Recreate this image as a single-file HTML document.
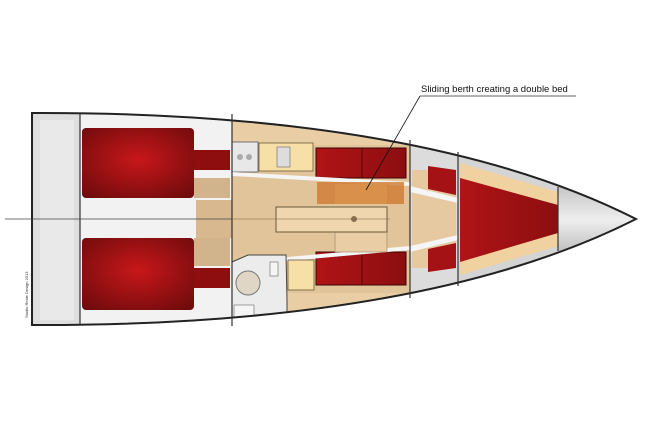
<!DOCTYPE html>
<html><head><style>html,body{margin:0;padding:0;background:#fff;width:654px;height:436px;overflow:hidden}</style></head>
<body>
<svg width="654" height="436" viewBox="0 0 654 436" xmlns="http://www.w3.org/2000/svg">
<defs>
<radialGradient id="rd" cx="0.5" cy="0.45" r="0.7"><stop offset="0" stop-color="#c8171a"/><stop offset="1" stop-color="#6e0b0c"/></radialGradient>
<linearGradient id="tr" x1="0" x2="1"><stop offset="0" stop-color="#b01416"/><stop offset="1" stop-color="#8c0e10"/></linearGradient>
<linearGradient id="cone" x1="0" y1="0" x2="0" y2="1"><stop offset="0" stop-color="#9a9a9a"/><stop offset="0.5" stop-color="#eeeeee"/><stop offset="1" stop-color="#8a8a8a"/></linearGradient>
<clipPath id="hull"><path d="M32,113 C300,112 500,150 636,219 C500,288 300,326 32,325 Z"/></clipPath>
</defs>
<g clip-path="url(#hull)">
<rect x="0" y="0" width="654" height="436" fill="#d9d9d9"/>
<!-- stern grey -->
<rect x="34" y="110" width="46" height="220" fill="#dedede"/>
<rect x="40" y="120" width="34" height="200" fill="#e9e9e9"/>
<!-- aft cabins -->
<rect x="80" y="110" width="152" height="220" fill="#f2f2f2"/>
<rect x="82" y="128" width="112" height="70" rx="4" fill="url(#rd)"/>
<rect x="82" y="238" width="112" height="72" rx="4" fill="url(#rd)"/>
<rect x="194" y="150" width="36" height="20" fill="#8e0e10"/>
<rect x="194" y="268" width="36" height="20" fill="#8e0e10"/>
<rect x="194" y="178" width="36" height="20" fill="#d2b48c"/>
<rect x="194" y="238" width="36" height="28" fill="#d2b48c"/>
<rect x="196" y="200" width="36" height="38" fill="#d8b98f"/>
<!-- saloon wood -->
<rect x="232" y="100" width="178" height="240" fill="#e2c49a"/>
<rect x="232" y="100" width="178" height="45" fill="#e8cda5"/>
<rect x="232" y="293" width="178" height="45" fill="#e8cda5"/>
<!-- galley -->
<rect x="232" y="142" width="26" height="30" fill="#e8e8e8" stroke="#555" stroke-width="0.8"/>
<circle cx="240" cy="157" r="3" fill="#aaa"/><circle cx="249" cy="157" r="3" fill="#aaa"/>
<rect x="259" y="143" width="54" height="28" fill="#f7dfa8" stroke="#6b5a3a" stroke-width="0.8"/>
<rect x="277" y="147" width="13" height="20" fill="#ddd" stroke="#666" stroke-width="0.6"/>
<!-- settees -->
<rect x="316" y="148" width="90" height="30" fill="url(#tr)" stroke="#3a0505" stroke-width="1"/>
<line x1="362" y1="148" x2="362" y2="178" stroke="#4a0a0a"/>
<rect x="316" y="252" width="90" height="33" fill="url(#tr)" stroke="#3a0505" stroke-width="1"/>
<line x1="362" y1="252" x2="362" y2="285" stroke="#4a0a0a"/>
<polygon points="232,172 410,182 410,186 232,176" fill="#f5f5f5"/>
<polygon points="232,262 410,246 410,250 232,266" fill="#f5f5f5"/>
<!-- head -->
<polygon points="232,262 248,255 286,255 287,300 287,328 232,328" fill="#ececec" stroke="#444" stroke-width="1"/>
<circle cx="248" cy="283" r="12" fill="#e0d6c6" stroke="#777"/>
<rect x="270" y="262" width="8" height="14" fill="#f5f5f5" stroke="#666" stroke-width="0.6"/>
<rect x="234" y="305" width="20" height="18" fill="#f5f5f5" stroke="#666" stroke-width="0.6"/>
<rect x="288" y="260" width="26" height="30" fill="#f7dfa8" stroke="#6b5a3a" stroke-width="0.8"/>
<!-- orange sliding berth + table -->
<rect x="317" y="182" width="87" height="22" fill="#d07a30" opacity="0.8"/>
<rect x="335" y="184" width="52" height="20" fill="#d9904a"/>
<rect x="335" y="232" width="52" height="20" fill="#e8cda5" stroke="#9a8060" stroke-width="0.6"/>
<rect x="276" y="207" width="111" height="25" fill="#efd6ae" stroke="#6b5a3a" stroke-width="1"/>
<circle cx="354" cy="219" r="3" fill="#8a7050"/>
<!-- forward area -->
<rect x="410" y="100" width="48" height="240" fill="#dcdcdc"/>
<rect x="412" y="170" width="44" height="98" fill="#e6c9a0"/>
<polygon points="428,166 456,170 456,195 428,189" fill="#a51215"/>
<polygon points="428,249 456,243 456,268 428,272" fill="#a51215"/>
<polygon points="410,186 458,198 458,203 410,192" fill="#f5f5f5"/>
<polygon points="410,246 458,235 458,240 410,252" fill="#f5f5f5"/>
<rect x="458" y="100" width="100" height="240" fill="#d4d4d4"/>
<polygon points="460,163 558,192 558,246 460,275" fill="#f0d2a0"/>
<polygon points="460,178 558,205 558,233 460,262" fill="url(#tr)"/>
<rect x="558" y="150" width="90" height="140" fill="url(#cone)"/>
</g>
<path d="M32,113 C300,112 500,150 636,219 C500,288 300,326 32,325 Z" fill="none" stroke="#222" stroke-width="2"/>
<line x1="80" y1="113" x2="80" y2="325" stroke="#333" stroke-width="1.2"/>
<line x1="232" y1="114" x2="232" y2="326" stroke="#333" stroke-width="1.2"/>
<line x1="410" y1="140" x2="410" y2="298" stroke="#333" stroke-width="1.2"/>
<line x1="458" y1="152" x2="458" y2="286" stroke="#333" stroke-width="1.2"/>
<line x1="558" y1="187" x2="558" y2="251" stroke="#333" stroke-width="1.2"/>
<line x1="5" y1="219" x2="232" y2="219" stroke="#444" stroke-width="0.8"/>
<line x1="232" y1="219" x2="390" y2="219" stroke="#7a6040" stroke-width="0.6"/>
<text x="28" y="318" font-family="Liberation Sans, sans-serif" font-size="4" fill="#333" transform="rotate(-90 28 318)">Studio Reale Design 2013</text>
<text x="421" y="92" font-family="Liberation Sans, sans-serif" font-size="9.5" fill="#111">Sliding berth creating a double bed</text>
<line x1="420" y1="96" x2="576" y2="96" stroke="#333" stroke-width="0.8"/>
<line x1="420" y1="96" x2="366" y2="190" stroke="#111" stroke-width="0.8"/>
</svg>
</body></html>
